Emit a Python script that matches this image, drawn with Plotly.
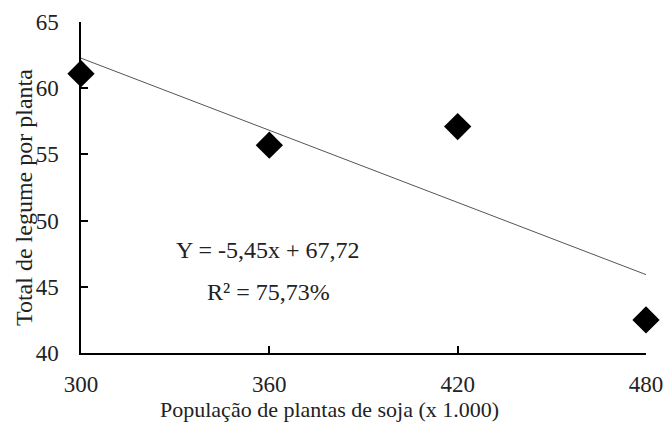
import plotly.graph_objects as go

populacao = [300, 360, 420, 480]
legumes = [61.1, 55.7, 57.1, 42.5]
slope = -5.45
intercept = 67.72
x_ticks = [300, 360, 420, 480]
y_ticks = [40, 45, 50, 55, 60, 65]
x_title = "População de plantas de soja (x 1.000)"
y_title = "Total de legume por planta"

trend_x = [populacao[0], populacao[-1]]
trend_y = [slope * ((p - 240) / 60) + intercept for p in trend_x]

FONT = "Liberation Serif"
TXT = "#222222"

fig = go.Figure()
fig.add_trace(go.Scatter(x=trend_x, y=trend_y, mode="lines",
                         line=dict(color="#555555", width=1), showlegend=False))
fig.add_trace(go.Scatter(x=populacao, y=legumes, mode="markers",
                         marker=dict(symbol="diamond", size=21, color="black"),
                         showlegend=False, cliponaxis=False))

def note(x, y, text, size, angle=0):
    fig.add_annotation(x=x, y=y, xref="paper", yref="paper", text=text,
                       showarrow=False, textangle=angle,
                       xanchor="center", yanchor="middle",
                       font=dict(family=FONT, size=size, color=TXT))

note(0.331, 0.311, "Y = -5,45x + 67,72", 24)
note(0.331, 0.184, "R² = 75,73%", 24)
note(0.44, -0.172, x_title, 22)
note(-0.101, 0.471, y_title, 24, -90)

fig.update_layout(
    width=665, height=423,
    margin=dict(l=81, r=19, t=22, b=70),
    plot_bgcolor="white", paper_bgcolor="white",
    font=dict(family=FONT, size=23, color=TXT),
    xaxis=dict(range=[300, 480], tickvals=x_ticks, ticks="inside", ticklen=7,
               tickwidth=1.5, tickcolor="black", showline=True, linecolor="black",
               linewidth=1.5, showgrid=False, zeroline=False, ticklabelstandoff=10,
               automargin=False,
               tickfont=dict(family=FONT, size=23, color=TXT)),
    yaxis=dict(range=[40, 65], tickvals=y_ticks, ticks="inside", ticklen=7,
               tickwidth=1.5, tickcolor="black", showline=True, linecolor="black",
               linewidth=1.5, showgrid=False, zeroline=False, ticklabelstandoff=16,
               automargin=False,
               tickfont=dict(family=FONT, size=23, color=TXT)),
)

fig.write_html("out.html")
